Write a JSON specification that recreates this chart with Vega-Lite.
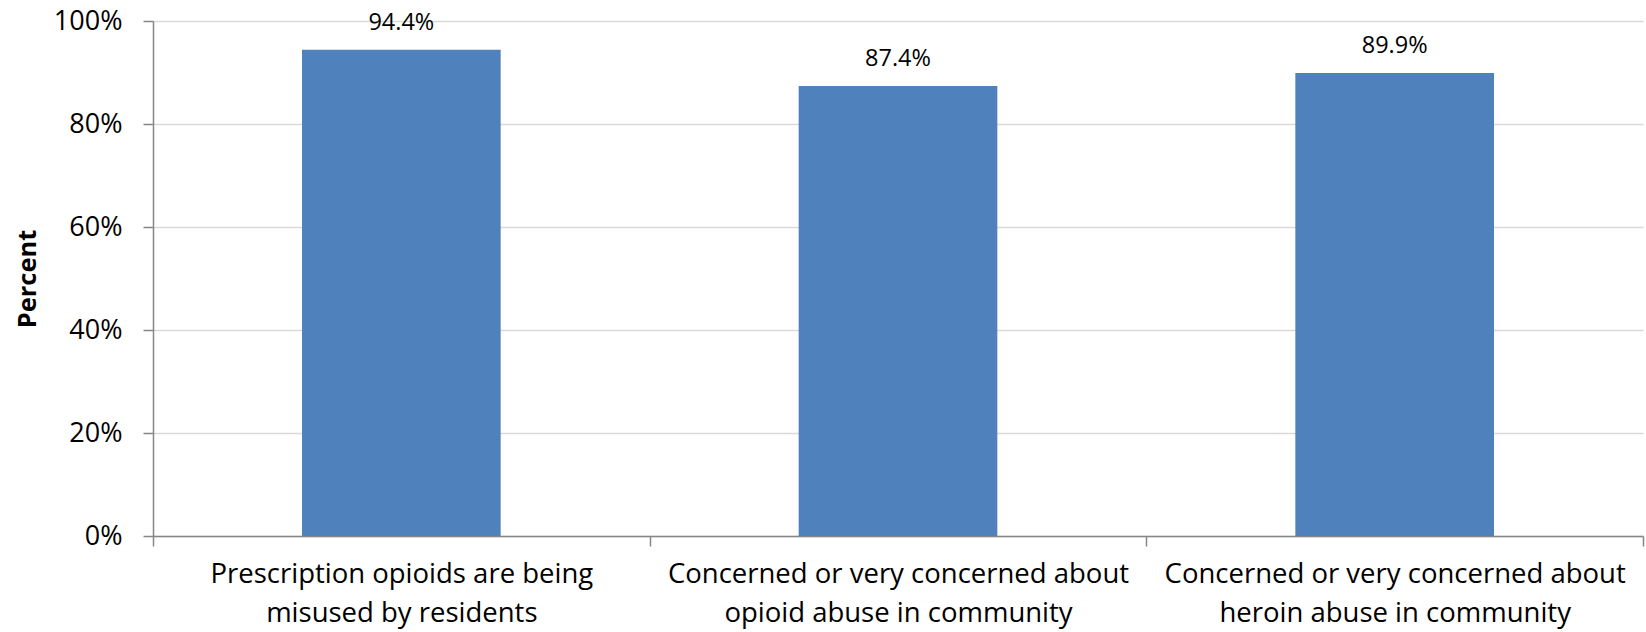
{
  "$schema": "https://vega.github.io/schema/vega-lite/v6.json",
  "width": 1490,
  "height": 515,
  "autosize": {"type": "none"},
  "padding": {"left": 153, "top": 21, "right": 3, "bottom": 96},
  "background": "white",
  "config": {
    "view": {"stroke": null},
    "font": "Open Sans"
  },
  "data": {
    "values": [
      {"item": "Prescription opioids are being|misused by residents", "pct": 0.944, "label": "94.4%"},
      {"item": "Concerned or very concerned about|opioid abuse in community", "pct": 0.874, "label": "87.4%"},
      {"item": "Concerned or very concerned about|heroin abuse in community", "pct": 0.899, "label": "89.9%"}
    ]
  },
  "encoding": {
    "x": {
      "field": "item",
      "type": "nominal",
      "sort": null,
      "scale": {"paddingInner": 0, "paddingOuter": 0},
      "axis": {
        "title": null,
        "labelAngle": 0,
        "labelExpr": "datum.value ? split(datum.value, '|') : ''",
        "labelFont": "Open Sans",
        "labelFontSize": 27.5,
        "labelColor": "#000000",
        "labelLineHeight": 39,
        "labelPadding": 14,
        "labelLimit": 600,
        "tickBand": "extent",
        "tickSize": 10,
        "tickColor": "#868686",
        "tickWidth": 1.5,
        "domainColor": "#868686",
        "domainWidth": 1.5,
        "grid": false
      }
    }
  },
  "layer": [
    {
      "mark": {"type": "bar", "color": "#4F81BD", "width": {"band": 0.4}},
      "encoding": {
        "y": {
          "field": "pct",
          "type": "quantitative",
          "scale": {"domain": [0, 1], "nice": false},
          "axis": {
            "title": "Percent",
            "titleFont": "Open Sans",
            "titleFontSize": 25.5,
            "titleFontWeight": "bold",
            "titleColor": "#000000",
            "titlePadding": 13,
            "format": ".0%",
            "values": [0, 0.2, 0.4, 0.6, 0.8, 1],
            "labelFont": "Open Sans",
            "labelFontSize": 27,
            "labelColor": "#000000",
            "labelPadding": 21,
            "tickSize": 10,
            "tickColor": "#868686",
            "tickWidth": 1.5,
            "domainColor": "#868686",
            "domainWidth": 1.5,
            "gridColor": "#d9d9d9",
            "gridWidth": 1.5
          }
        }
      }
    },
    {
      "mark": {"type": "text", "font": "Open Sans", "fontSize": 23.5, "color": "#000000", "baseline": "alphabetic", "dy": -20},
      "encoding": {
        "y": {"field": "pct", "type": "quantitative"},
        "text": {"field": "label"}
      }
    }
  ]
}
